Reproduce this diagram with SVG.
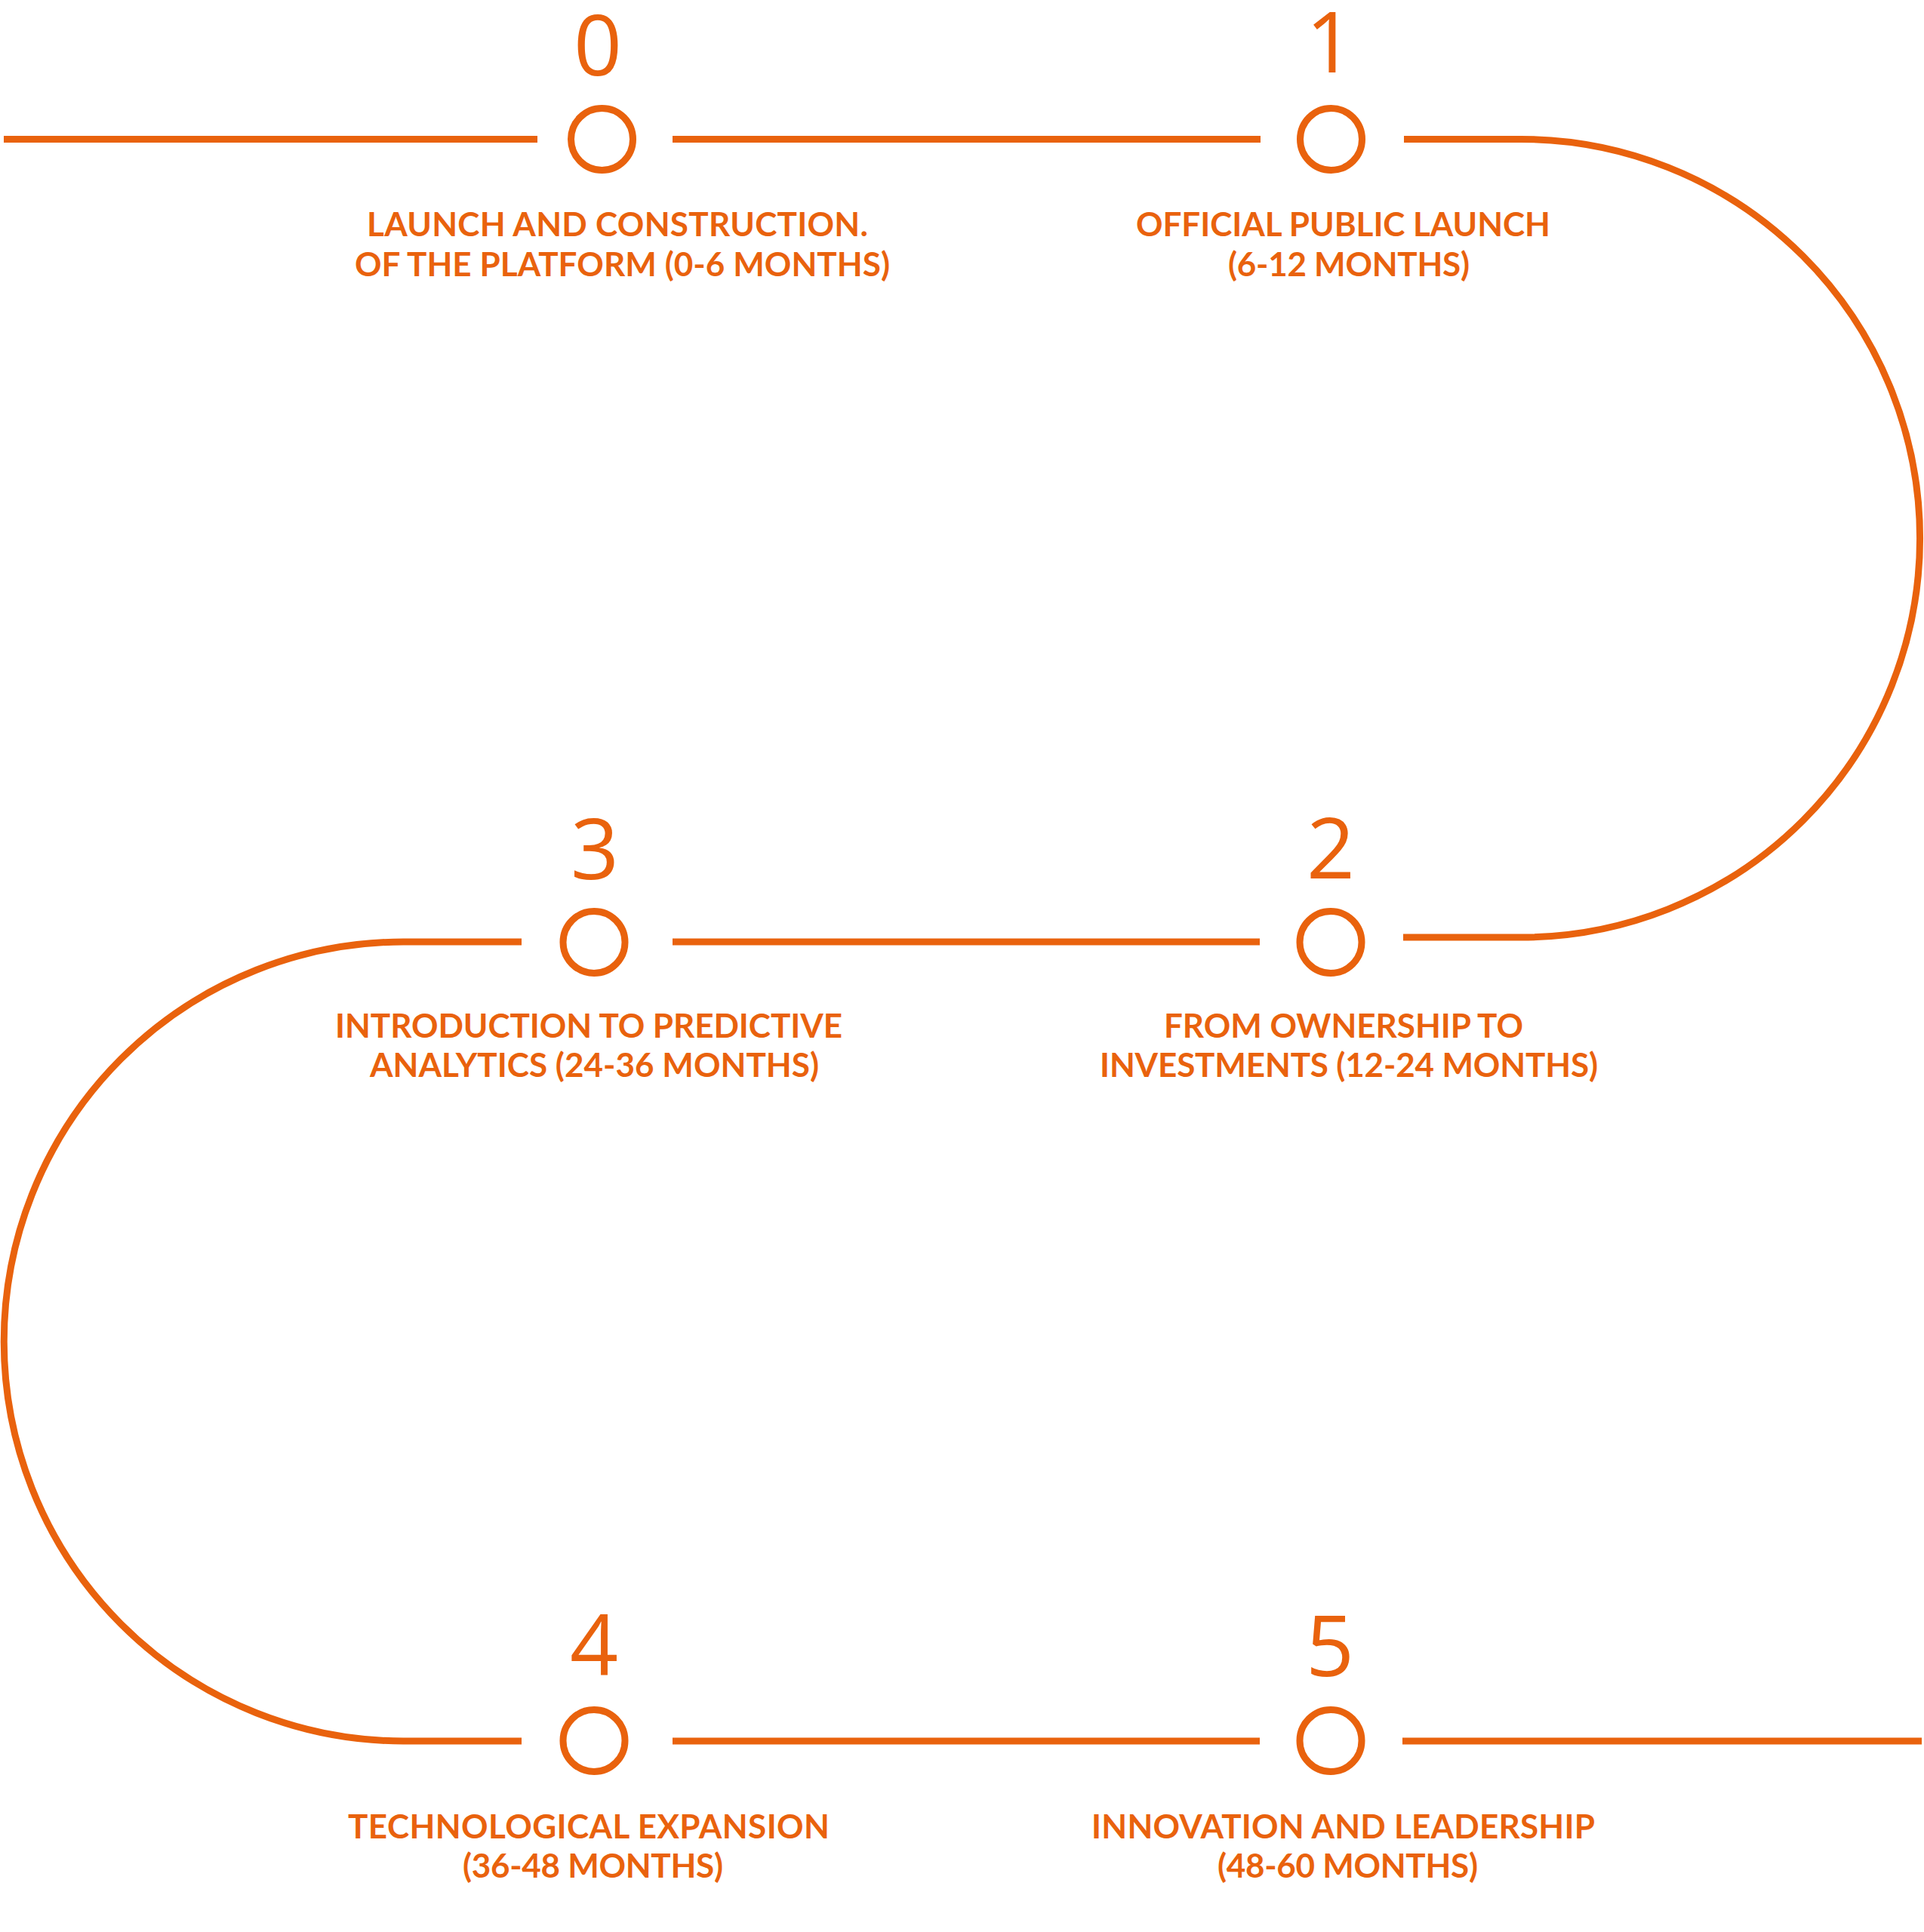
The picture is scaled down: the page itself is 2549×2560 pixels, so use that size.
<svg xmlns="http://www.w3.org/2000/svg" width="2549" height="2560" viewBox="0 0 2549 2560">
<style>
.ln{fill:none;stroke:#E9620D;stroke-width:9}
.node{fill:none;stroke:#E9620D;stroke-width:9}
.num{font-family:"Open Sans","Noto Sans",sans-serif;font-size:112px;font-weight:400;fill:#E9620D;text-anchor:middle}
.lbl{font-family:Lato,"Noto Sans",sans-serif;font-size:44px;font-weight:700;fill:#E9620D;text-anchor:middle}
</style>
<rect width="2549" height="2560" fill="#FFFFFF"/>
<g id="connectors">
<path class="ln" d="M5,184.5 H712"/>
<path class="ln" d="M891,184.5 H1670"/>
<path class="ln" d="M1860,184.5 H2015 A528.75,528.75 0 0 1 2015,1242 H1859"/>
<path class="ln" d="M1669,1248 H891"/>
<path class="ln" d="M691,1248 H534.5 A529.5,529.5 0 0 0 534.5,2307 H691"/>
<path class="ln" d="M891,2307 H1669"/>
<path class="ln" d="M1858,2307 H2546"/>
</g>
<g id="node0">
<text class="num" x="792" y="100">0</text>
<circle class="node" cx="797.5" cy="184.5" r="41"/>
<text class="lbl" x="818" y="313" textLength="664">LAUNCH AND CONSTRUCTION.</text>
<text class="lbl" x="824.5" y="366" textLength="709">OF THE PLATFORM (0-6 MONTHS)</text>
</g>
<g id="node1">
<text class="num" x="1762" y="96">1</text>
<circle class="node" cx="1763.5" cy="184.5" r="41"/>
<text class="lbl" x="1779.5" y="313" textLength="549">OFFICIAL PUBLIC LAUNCH</text>
<text class="lbl" x="1787" y="366" textLength="320">(6-12 MONTHS)</text>
</g>
<g id="node2">
<text class="num" x="1763" y="1164">2</text>
<circle class="node" cx="1763" cy="1248.5" r="41"/>
<text class="lbl" x="1780" y="1375" textLength="476">FROM OWNERSHIP TO</text>
<text class="lbl" x="1787" y="1427" textLength="660">INVESTMENTS (12-24 MONTHS)</text>
</g>
<g id="node3">
<text class="num" x="788" y="1165">3</text>
<circle class="node" cx="787" cy="1248.5" r="41"/>
<text class="lbl" x="780" y="1375" textLength="672">INTRODUCTION TO PREDICTIVE</text>
<text class="lbl" x="787.5" y="1427" textLength="595">ANALYTICS (24-36 MONTHS)</text>
</g>
<g id="node4">
<text class="num" x="787" y="2220">4</text>
<circle class="node" cx="787" cy="2306.5" r="41"/>
<text class="lbl" x="780" y="2436" textLength="638">TECHNOLOGICAL EXPANSION</text>
<text class="lbl" x="785.5" y="2488" textLength="345">(36-48 MONTHS)</text>
</g>
<g id="node5">
<text class="num" x="1762" y="2221">5</text>
<circle class="node" cx="1763" cy="2306.5" r="41"/>
<text class="lbl" x="1779.5" y="2436" textLength="667">INNOVATION AND LEADERSHIP</text>
<text class="lbl" x="1785.5" y="2488" textLength="345">(48-60 MONTHS)</text>
</g>
</svg>
